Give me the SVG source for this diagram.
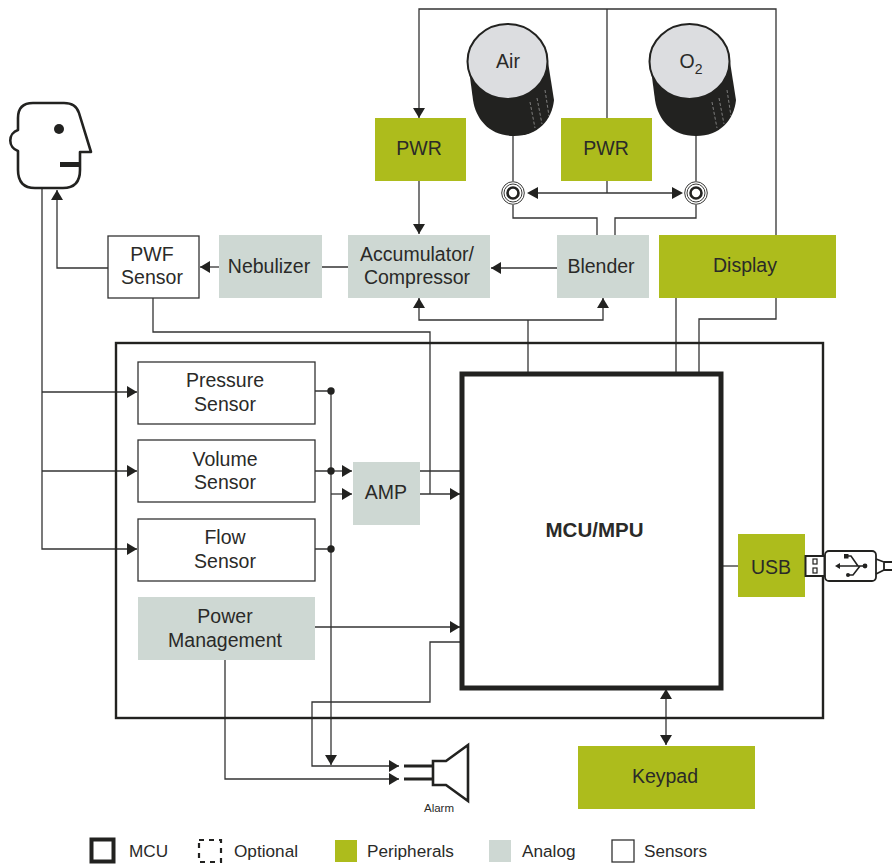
<svg xmlns="http://www.w3.org/2000/svg" width="892" height="865" viewBox="0 0 892 865">
<style>
text{font-family:"Liberation Sans",Arial,sans-serif;font-size:19.500px;fill:#2a2a28;text-anchor:middle}
.w{fill:none;stroke:#333;stroke-width:1.300}
.box{fill:#fff;stroke:#333;stroke-width:1.300}
.g{fill:#adbc1c}
.a{fill:#ced8d3}
.k{fill:#222220}
.h{fill:none;stroke:#222220;stroke-width:2.600;stroke-linejoin:round}
.leg{font-size:17.200px;text-anchor:start}
.tick{fill:none;stroke:#d8d8d8;stroke-width:.5;stroke-dasharray:3 2}
</style>
<defs>
<marker id="ar" markerUnits="userSpaceOnUse" markerWidth="12" markerHeight="14" refX="10" refY="6" orient="auto-start-reverse"><path d="M0 0L10 6L0 12Z" fill="#222220"/></marker>
</defs>

<g id="connectors" class="w">
<path d="M419 118V9H776V235" marker-start="url(#ar)"/>
<path d="M607 9V118"/>
<path d="M607 181V193"/>
<path d="M538 193H672"/>
<path d="M513 134V181M513 205V218H597V235M696 134V181M696 205V218H615V235"/>
<path d="M419 181V234" marker-end="url(#ar)"/>
<path d="M557 268H491" marker-end="url(#ar)"/>
<path d="M348 267H311" marker-end="url(#ar)"/>
<path d="M219 267H200" marker-end="url(#ar)"/>
<path d="M108 268H57V190" marker-end="url(#ar)"/>
<path d="M42 188V549H137" marker-end="url(#ar)"/>
<path d="M42 392H137" marker-end="url(#ar)"/>
<path d="M42 471H137" marker-end="url(#ar)"/>
<path d="M153 298V332H430V494"/>
<path d="M528 373V320"/>
<path d="M419 298V320H603V298" marker-start="url(#ar)" marker-end="url(#ar)"/>
<path d="M676 298V373M776 235V319H699V373"/>
<path d="M315 391H331M315 471H331M315 549H331"/>
<path d="M331 391V765" marker-end="url(#ar)"/>
<path d="M331 471H352" marker-end="url(#ar)"/>
<path d="M331 494H352" marker-end="url(#ar)"/>
<path d="M420 471H461"/>
<path d="M420 494H460" marker-end="url(#ar)"/>
<path d="M315 627H460" marker-end="url(#ar)"/>
<path d="M461 642H430V702H312V766H399" marker-end="url(#ar)"/>
<path d="M225 660V779H399" marker-end="url(#ar)"/>
<path d="M722 566H738"/>
<path d="M666 689V745" marker-start="url(#ar)" marker-end="url(#ar)"/>
</g>

<g id="mcu-frame"><rect x="116" y="343" width="707" height="375" fill="none" stroke="#222220" stroke-width="2.400"/></g>

<g id="person">
<path class="h" d="M33 103H64Q76 103 79 113L91 152H80V170Q80 188 63 188H35Q18 188 18 170V151A11 11 0 0 1 18 130V118Q18 103 33 103Z"/>
<circle cx="59" cy="129" r="5" class="k"/>
<rect x="60" y="162" width="20" height="5" class="k"/>
</g>

<g id="tank-air">
<path class="k" d="M468 62L473 100C476 120 490 136 514 136C538 136 552 120 554 100L548 62Z"/>
<path class="tick" d="M530 102L535 128M537 98L542 124M545 90L549 116"/>
<ellipse cx="507.500" cy="61.500" rx="40" ry="37.500" fill="#dcdde0" stroke="#222220" stroke-width="2"/>
<text x="508" y="68">Air</text>
</g>
<g id="tank-o2">
<path class="k" d="M650 62L655 100C658 120 672 136 696 136C720 136 734 120 736 100L730 62Z"/>
<path class="tick" d="M712 102L717 128M719 98L724 124M727 90L731 116"/>
<ellipse cx="689.500" cy="61.500" rx="40" ry="37.500" fill="#dcdde0" stroke="#222220" stroke-width="2"/>
<text x="691" y="68">O<tspan font-size="14" dy="6">2</tspan></text>
</g>
<g id="valve-air" fill="#fff" stroke="#222220">
<circle cx="513" cy="193" r="11.300" stroke-width=".9"/><circle cx="513" cy="193" r="9" stroke-width=".9"/><circle cx="513" cy="193" r="5.500" stroke-width="2.600"/>
</g>
<g id="valve-o2" fill="#fff" stroke="#222220">
<circle cx="696" cy="193" r="11.300" stroke-width=".9"/><circle cx="696" cy="193" r="9" stroke-width=".9"/><circle cx="696" cy="193" r="5.500" stroke-width="2.600"/>
</g>
<g id="valve-arrows">
<path class="k" d="M527 193L538 187V199ZM683 193L672 187V199Z"/>
</g>

<g id="pwr1"><rect x="375" y="118" width="91" height="63" class="g"/><text x="419" y="155">PWR</text></g>
<g id="pwr2"><rect x="561" y="118" width="91" height="63" class="g"/><text x="606" y="155">PWR</text></g>
<g id="accumulator"><rect x="348" y="235" width="142" height="63" class="a"/><text x="417" y="261">Accumulator/</text><text x="417" y="284">Compressor</text></g>
<g id="blender"><rect x="557" y="235" width="92" height="63" class="a"/><text x="601" y="273">Blender</text></g>
<g id="display"><rect x="659" y="235" width="177" height="63" class="g"/><text x="745" y="272">Display</text></g>
<g id="nebulizer"><rect x="219" y="235" width="103" height="63" class="a"/><text x="269" y="273">Nebulizer</text></g>
<g id="pwf"><rect x="108" y="236" width="91" height="62" class="box"/><text x="152" y="261">PWF</text><text x="152" y="284">Sensor</text></g>
<g id="pressure"><rect x="138" y="362" width="177" height="62" class="box"/><text x="225" y="387">Pressure</text><text x="225" y="411">Sensor</text></g>
<g id="volume"><rect x="138" y="440" width="177" height="62" class="box"/><text x="225" y="466">Volume</text><text x="225" y="489">Sensor</text></g>
<g id="flow"><rect x="138" y="519" width="177" height="62" class="box"/><text x="225" y="544">Flow</text><text x="225" y="568">Sensor</text></g>
<g id="power"><rect x="138" y="597" width="177" height="63" class="a"/><text x="225" y="623">Power</text><text x="225" y="647">Management</text></g>
<g id="amp"><rect x="353" y="462" width="67" height="63" class="a"/><text x="386" y="499">AMP</text></g>
<g id="mcu"><rect x="462" y="374" width="259" height="314" fill="#fff" stroke="#222220" stroke-width="5"/><text x="594.500" y="537" style="font-weight:700;font-size:20.500px">MCU/MPU</text></g>
<g id="usb"><rect x="738" y="534" width="67" height="63" class="g"/><text x="771" y="574">USB</text></g>
<g id="keypad"><rect x="578" y="746" width="177" height="63" class="g"/><text x="665" y="783">Keypad</text></g>
<g id="dots" class="k"><circle cx="331" cy="391" r="3.700"/><circle cx="331" cy="471" r="3.700"/><circle cx="331" cy="549" r="3.700"/></g>

<g id="usb-plug">
<rect x="805.500" y="556" width="19" height="20" fill="#fff" stroke="#222220" stroke-width="2"/>
<rect x="813" y="559" width="4" height="5" fill="none" stroke="#222220" stroke-width="1.200"/>
<rect x="813" y="568" width="4" height="5" fill="none" stroke="#222220" stroke-width="1.200"/>
<rect x="825" y="551" width="51" height="30" rx="4" fill="#fff" stroke="#222220" stroke-width="1.800"/>
<path d="M838 566H865M846 556H851L858 566M848 575H853L860 566" fill="none" stroke="#222220" stroke-width="1.600"/>
<circle cx="865" cy="566" r="2.400" class="k"/><rect x="844" y="554" width="4.500" height="4.500" class="k"/><circle cx="848" cy="575" r="2" class="k"/><path class="k" d="M835 566L840 563V569Z"/>
<path d="M876 559L884 562V570L876 574M884 562H892M884 570H892" fill="none" stroke="#222220" stroke-width="1.800"/>
</g>

<g id="alarm">
<path d="M404 766H432M404 779H432" stroke="#222220" stroke-width="3" fill="none"/>
<path d="M433 761H446L468 745V801L446 785H433Z" fill="none" stroke="#222220" stroke-width="2.600"/>
<text x="439" y="812" style="font-size:11.500px">Alarm</text>
</g>

<g id="legend">
<rect x="91.500" y="839.500" width="22" height="22" fill="#fff" stroke="#222220" stroke-width="4"/><text class="leg" x="129" y="857">MCU</text>
<rect x="199" y="840" width="22" height="22" fill="none" stroke="#222220" stroke-width="2.200" stroke-dasharray="5 5"/><text class="leg" x="234" y="857">Optional</text>
<rect x="335" y="840" width="22" height="22" class="g"/><text class="leg" x="367" y="857">Peripherals</text>
<rect x="489" y="840" width="22" height="22" class="a"/><text class="leg" x="522" y="857">Analog</text>
<rect x="612" y="840" width="22" height="22" class="box"/><text class="leg" x="644" y="857">Sensors</text>
</g>
</svg>
